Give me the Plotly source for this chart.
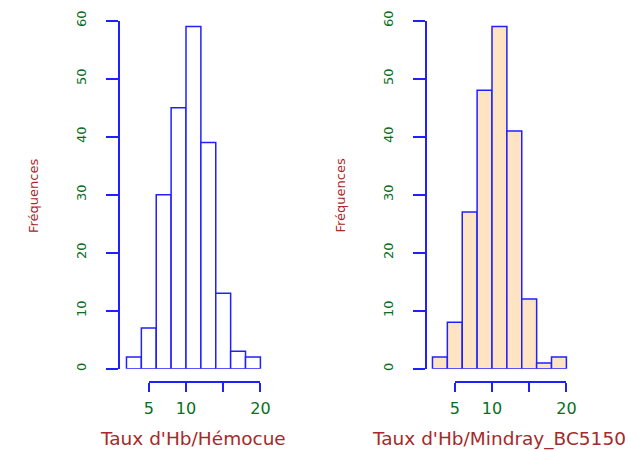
import plotly.graph_objects as go

# ---- data ----
breaks = [2, 4, 6, 8, 10, 12, 14, 16, 18, 20]
counts_hemocue = [2, 7, 30, 45, 59, 39, 13, 3, 2]
counts_mindray = [2, 8, 27, 48, 59, 41, 12, 1, 2]
x_tickvals = [5, 10, 15, 20]
x_ticktext = ["5", "10", "", "20"]
y_tickvals = [0, 10, 20, 30, 40, 50, 60]
xtitle_left = "Taux d'Hb/Hémocue"
xtitle_right = "Taux d'Hb/Mindray_BC5150"
ytitle = "Fréquences"

centers = [(a + b) / 2 for a, b in zip(breaks[:-1], breaks[1:])]
widths = [b - a for a, b in zip(breaks[:-1], breaks[1:])]

W, H = 642, 450
BLUE = "#2020ff"
GREEN = "#0a6e1e"
RED = "#a52a2a"

scale = 7.44          # px per unit
def px_x(px):
    return px / W
def px_y(py):
    return (H - py) / H

panels = [
    dict(ax0=120.0, v10=186.0, counts=counts_hemocue, fill="white", title=xtitle_left),
    dict(ax0=426.5, v10=492.0, counts=counts_mindray, fill="#ffe4c4", title=xtitle_right),
]

fig = go.Figure()
layout = dict(
    width=W, height=H, margin=dict(l=0, r=0, t=0, b=0, pad=0, autoexpand=False),
    paper_bgcolor="white", plot_bgcolor="rgba(0,0,0,0)", showlegend=False,
    annotations=[],
)

y0_px, y60_px = 368.7, 20.7
axis_y_px = 382.0

for i, p in enumerate(panels):
    n = i + 1
    xa = "x" if n == 1 else f"x{n}"
    ya = "y" if n == 1 else f"y{n}"
    xd = f"x{n+2}"
    ax_end = p["ax0"] + 150
    r0 = 10 - (p["v10"] - p["ax0"]) / scale
    r1 = 10 + (ax_end - p["v10"]) / scale

    fig.add_trace(go.Bar(
        x=centers, y=p["counts"], width=widths,
        marker=dict(color=p["fill"], line=dict(color=BLUE, width=1.5)),
        xaxis=xa, yaxis=ya, hoverinfo="skip",
    ))
    # invisible trace binding the detached x axis
    fig.add_trace(go.Scatter(
        x=x_tickvals, y=[0] * len(x_tickvals), mode="markers",
        marker=dict(opacity=0), xaxis=xd, yaxis=ya, hoverinfo="skip",
    ))

    layout["xaxis" if n == 1 else f"xaxis{n}"] = dict(
        domain=[px_x(p["ax0"]), px_x(ax_end)], range=[r0, r1],
        showline=False, showticklabels=False, ticks="", showgrid=False,
        zeroline=False, anchor=ya, automargin=False,
    )
    layout["yaxis" if n == 1 else f"yaxis{n}"] = dict(
        domain=[px_y(y0_px), px_y(y60_px)], range=[0, 60],
        anchor=xa, showline=True, linecolor=BLUE, linewidth=1.5,
        ticks="outside", ticklen=12, tickcolor=BLUE, tickwidth=1.5,
        tickvals=y_tickvals, tickangle=-90, showgrid=False, zeroline=False,
        tickfont=dict(family="DejaVu Sans", size=13, color=GREEN),
        ticklabelstandoff=15, automargin=False,
    )
    d5 = p["v10"] - 5 * scale
    d20 = p["v10"] + 10 * scale
    layout[f"xaxis{n+2}"] = dict(
        domain=[px_x(d5), px_x(d20)], range=[5, 20],
        anchor="free", position=px_y(axis_y_px), side="bottom",
        showline=True, linecolor=BLUE, linewidth=1.5,
        ticks="outside", ticklen=9, tickcolor=BLUE, tickwidth=1.5,
        tickvals=x_tickvals, ticktext=x_ticktext, showgrid=False, zeroline=False,
        tickfont=dict(family="DejaVu Sans", size=16, color=GREEN),
        ticklabelstandoff=3, automargin=False,
    )
    # axis titles
    center_x = p["v10"] + 7
    layout["annotations"].append(dict(
        text=p["title"], x=px_x(center_x), y=px_y(438.5), xref="paper", yref="paper",
        xanchor="center", yanchor="middle", showarrow=False,
        font=dict(family="DejaVu Sans", size=18.5, color=RED),
    ))
    layout["annotations"].append(dict(
        text=ytitle, x=px_x(p["ax0"] - 87), y=px_y(196), xref="paper", yref="paper",
        xanchor="center", yanchor="middle", showarrow=False, textangle=-90,
        font=dict(family="DejaVu Sans", size=13, color=RED),
    ))

fig.update_layout(**layout)
fig.write_html("out.html")
